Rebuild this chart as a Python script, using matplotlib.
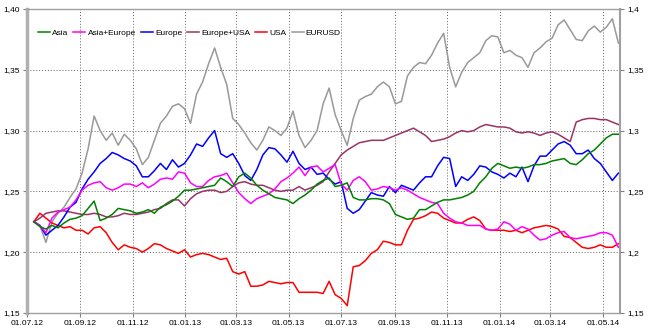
import matplotlib
matplotlib.use("Agg")
import matplotlib.pyplot as plt
import matplotlib.dates as mdates
import matplotlib.ticker as mticker
import pandas as pd

plt.rcParams['font.family'] = ['Liberation Sans', 'DejaVu Sans']

# Weekly observations (Mondays)
dates = pd.date_range("2012-07-09", periods=98, freq="7D")

asia = [
    1.225, 1.221, 1.219, 1.222, 1.220, 1.224, 1.227, 1.228, 1.230, 1.236,
    1.242, 1.226, 1.228, 1.231, 1.236, 1.235, 1.234, 1.232, 1.233, 1.235,
    1.232, 1.237, 1.239, 1.242, 1.246, 1.251, 1.251, 1.252, 1.253, 1.254,
    1.255, 1.261, 1.258, 1.254, 1.262, 1.265, 1.261, 1.255, 1.251, 1.248,
    1.245, 1.244, 1.243, 1.240, 1.244, 1.247, 1.251, 1.256, 1.259, 1.261,
    1.254, 1.255, 1.257, 1.245, 1.243, 1.243, 1.244, 1.244, 1.243, 1.240,
    1.231, 1.229, 1.227, 1.228, 1.235, 1.235, 1.238, 1.241, 1.243, 1.243,
    1.244, 1.245, 1.247, 1.250, 1.257, 1.262, 1.269, 1.273, 1.271, 1.269,
    1.270, 1.269, 1.270, 1.272, 1.272, 1.273, 1.275, 1.276, 1.277, 1.273,
    1.272, 1.276, 1.281, 1.284, 1.289, 1.294, 1.297, 1.297,
]

asia_europe = [
    1.225, 1.222, 1.216, 1.228, 1.233, 1.235, 1.237, 1.243, 1.251, 1.255,
    1.257, 1.258, 1.253, 1.251, 1.253, 1.256, 1.256, 1.254, 1.257, 1.253,
    1.256, 1.260, 1.261, 1.260, 1.266, 1.265, 1.257, 1.254, 1.254, 1.259,
    1.262, 1.263, 1.265, 1.257, 1.249, 1.244, 1.240, 1.244, 1.246, 1.248,
    1.252, 1.258, 1.261, 1.265, 1.270, 1.263, 1.270, 1.271, 1.266, 1.269,
    1.272, 1.256, 1.251, 1.259, 1.262, 1.258, 1.251, 1.252, 1.254, 1.253,
    1.251, 1.253, 1.251, 1.248, 1.245, 1.243, 1.241, 1.240, 1.232, 1.228,
    1.225, 1.224, 1.222, 1.222, 1.222, 1.219, 1.218, 1.219, 1.225, 1.223,
    1.218, 1.221, 1.219, 1.214, 1.210, 1.211, 1.214, 1.216, 1.217, 1.212,
    1.211, 1.212, 1.213, 1.214, 1.216, 1.216, 1.214, 1.204,
]

europe = [
    1.225, 1.222, 1.214, 1.218, 1.222, 1.229, 1.237, 1.241, 1.252, 1.260,
    1.266, 1.273, 1.277, 1.282, 1.280, 1.277, 1.275, 1.271, 1.262, 1.262,
    1.267, 1.273, 1.268, 1.276, 1.270, 1.273, 1.280, 1.289, 1.287, 1.294,
    1.300, 1.281, 1.278, 1.281, 1.273, 1.263, 1.259, 1.268, 1.280, 1.286,
    1.285, 1.280, 1.274, 1.283, 1.273, 1.268, 1.270, 1.264, 1.265, 1.260,
    1.256, 1.258, 1.236, 1.232, 1.235, 1.242, 1.249, 1.247, 1.246, 1.254,
    1.249, 1.255, 1.253, 1.251, 1.257, 1.262, 1.262, 1.271, 1.278, 1.277,
    1.254, 1.262, 1.259, 1.264, 1.271, 1.270, 1.266, 1.264, 1.261, 1.265,
    1.262, 1.270, 1.258, 1.271, 1.279, 1.279, 1.284, 1.289, 1.291, 1.288,
    1.281, 1.281, 1.284, 1.277, 1.273, 1.266, 1.259, 1.265,
]

europe_usa = [
    1.225, 1.228, 1.232, 1.233, 1.234, 1.234, 1.233, 1.232, 1.231, 1.231,
    1.232, 1.231, 1.229, 1.229, 1.230, 1.232, 1.231, 1.231, 1.232, 1.233,
    1.235, 1.236, 1.240, 1.243, 1.243, 1.238, 1.244, 1.248, 1.250, 1.251,
    1.251, 1.249, 1.250, 1.254, 1.257, 1.258, 1.256, 1.255, 1.255, 1.253,
    1.251, 1.250, 1.251, 1.251, 1.254, 1.251, 1.253, 1.255, 1.258, 1.266,
    1.273, 1.280, 1.284, 1.287, 1.290, 1.291, 1.292, 1.292, 1.292, 1.294,
    1.296, 1.298, 1.300, 1.302, 1.299, 1.296, 1.291, 1.292, 1.293, 1.295,
    1.298, 1.300, 1.299, 1.300, 1.303, 1.305, 1.304, 1.303, 1.303, 1.302,
    1.299, 1.298, 1.299, 1.298, 1.296, 1.298, 1.299, 1.297, 1.294, 1.291,
    1.307, 1.309, 1.310, 1.310, 1.309, 1.309, 1.307, 1.305,
]

usa = [
    1.225, 1.232, 1.228, 1.224, 1.222, 1.220, 1.221, 1.218, 1.218, 1.215,
    1.220, 1.221, 1.216, 1.208, 1.202, 1.206, 1.204, 1.203, 1.200, 1.203,
    1.207, 1.206, 1.203, 1.201, 1.199, 1.202, 1.196, 1.198, 1.199, 1.198,
    1.196, 1.194, 1.195, 1.184, 1.182, 1.184, 1.172, 1.172, 1.173, 1.176,
    1.175, 1.174, 1.175, 1.175, 1.167, 1.167, 1.167, 1.167, 1.166, 1.176,
    1.165, 1.162, 1.156, 1.188, 1.189, 1.193, 1.199, 1.202, 1.209, 1.208,
    1.206, 1.206, 1.218, 1.227, 1.228, 1.230, 1.233, 1.232, 1.228, 1.226,
    1.224, 1.224, 1.227, 1.229, 1.226, 1.219, 1.218, 1.218, 1.218, 1.217,
    1.218, 1.216, 1.218, 1.220, 1.221, 1.222, 1.221, 1.219, 1.213, 1.212,
    1.208, 1.204, 1.203, 1.204, 1.206, 1.204, 1.204, 1.207,
]

eurusd = [
    1.225, 1.222, 1.208, 1.225, 1.232, 1.237, 1.245, 1.252, 1.265, 1.285,
    1.312, 1.300, 1.292, 1.298, 1.288, 1.297, 1.292, 1.285, 1.272, 1.278,
    1.292, 1.306, 1.312, 1.320, 1.322, 1.318, 1.306, 1.330, 1.340, 1.355,
    1.368, 1.352, 1.338, 1.310, 1.305, 1.298, 1.290, 1.284, 1.292, 1.303,
    1.300, 1.296, 1.302, 1.316, 1.296, 1.286, 1.292, 1.300, 1.322, 1.335,
    1.313, 1.300, 1.288, 1.310, 1.325, 1.328, 1.330, 1.336, 1.340, 1.336,
    1.322, 1.324, 1.345, 1.352, 1.356, 1.355, 1.362, 1.372, 1.380, 1.352,
    1.336, 1.348, 1.356, 1.360, 1.364, 1.374, 1.378, 1.377, 1.364, 1.366,
    1.362, 1.360, 1.352, 1.364, 1.368, 1.373, 1.376, 1.387, 1.391, 1.383,
    1.375, 1.374, 1.382, 1.386, 1.381, 1.385, 1.392, 1.372,
]

series = [
    ("Asia", asia, "#008000"),
    ("Asia+Europe", asia_europe, "#ff00ff"),
    ("Europe", europe, "#0000ff"),
    ("Europe+USA", europe_usa, "#993366"),
    ("USA", usa, "#ff0000"),
    ("EURUSD", eurusd, "#999999"),
]

fig = plt.figure(figsize=(6.5, 3.34), dpi=100)
ax = fig.add_axes([0.0415, 0.063, 0.9125, 0.910])

# Draw EURUSD first so the portfolio lines sit above it
for name, vals, col in reversed(series):
    ax.plot(dates, vals, color=col, lw=1.1, label=name)

ax.set_xlim(pd.Timestamp("2012-07-01"), pd.Timestamp("2014-05-21"))
ax.set_ylim(1.15, 1.40)

ax.xaxis.set_major_locator(mdates.MonthLocator(bymonth=[1, 3, 5, 7, 9, 11]))
ax.xaxis.set_major_formatter(mdates.DateFormatter("%d.%m.%y"))
ax.yaxis.set_major_locator(mticker.MultipleLocator(0.05))
ax.yaxis.set_major_formatter(mticker.FuncFormatter(lambda v, p: f"{v:.2f}".replace(".", ",")))

ax.grid(True, which="major", color="#606060", linestyle=(0, (1, 2)), lw=0.7)
ax.tick_params(axis="both", labelsize=6, length=3, color="#808080", width=0.8, pad=2)

for side in ("top", "right", "bottom"):
    ax.spines[side].set_color("#a0a0a0")
    ax.spines[side].set_linewidth(1.0)
ax.spines["left"].set_color("#b0b0b0")
ax.spines["left"].set_linewidth(2.5)
ax.spines["right"].set_linewidth(1.5)

# Right-hand scale with short number format
ax2 = ax.twinx()
ax2.set_ylim(ax.get_ylim())
ax2.yaxis.set_major_locator(mticker.MultipleLocator(0.05))
ax2.yaxis.set_major_formatter(mticker.FuncFormatter(
    lambda v, p: (f"{v:.2f}".rstrip("0").rstrip(".")).replace(".", ",")))
ax2.tick_params(axis="y", labelsize=6, length=3, color="#808080", width=0.8, pad=2)
for s in ax2.spines.values():
    s.set_visible(False)

handles, labels = ax.get_legend_handles_labels()
handles, labels = handles[::-1], labels[::-1]
ax.legend(handles, labels, ncol=6, loc="upper left", bbox_to_anchor=(0.01, 0.95),
          frameon=False, fontsize=6, handlelength=1.45, handletextpad=0.25,
          columnspacing=0.6, borderaxespad=0.2)

fig.savefig("out.png", dpi=100)
